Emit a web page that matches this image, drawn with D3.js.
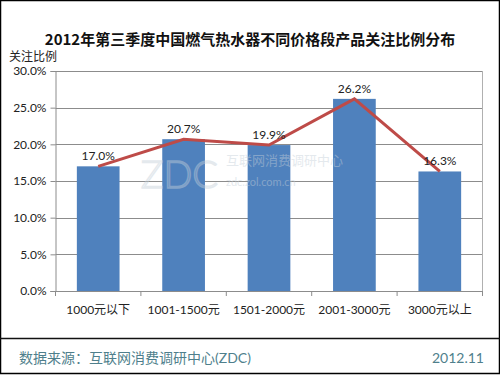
<!DOCTYPE html>
<html><head><meta charset="utf-8">
<script src="https://cdn.jsdelivr.net/npm/d3@7"></script>
<style>body{margin:0;background:#fff}svg{display:block}</style>
</head><body>
<script>
const categories = ["1000元以下","1001-1500元","1501-2000元","2001-3000元","3000元以上"];
const values = [17.0, 20.7, 19.9, 26.2, 16.3];
const yTicks = [0,5,10,15,20,25,30];
const title = "2012年第三季度中国燃气热水器不同价格段产品关注比例分布";
const yTitle = "关注比例";
const source = "数据来源：互联网消费调研中心(ZDC)";
const dateText = "2012.11";

const W=500,H=375;
const svg=d3.select("body").append("svg").attr("width",W).attr("height",H);
const font="Lato, 'Noto Sans CJK SC', sans-serif";
svg.append("rect").attr("x",0.5).attr("y",0.5).attr("width",W-1).attr("height",H-2).attr("fill","#fff").attr("stroke","#000").attr("stroke-width",1.5);

const m={left:55.5,right:482.5,top:71,bottom:291};
const x=d3.scaleBand().domain(categories).range([m.left,m.right]).paddingInner(0.5).paddingOuter(0.25);
const y=d3.scaleLinear().domain([0,30]).range([m.bottom,m.top]);

// grid
svg.append("g").selectAll("line").data(yTicks).join("line")
 .attr("x1",m.left).attr("x2",m.right).attr("y1",d=>Math.round(y(d))+0.5).attr("y2",d=>Math.round(y(d))+0.5)
 .attr("stroke","#8c8c8c").attr("stroke-width",1);
svg.append("line").attr("x1",m.right).attr("x2",m.right).attr("y1",m.top).attr("y2",m.bottom).attr("stroke","#b0b0b0");

// bars
svg.append("g").selectAll("rect").data(values).join("rect")
 .attr("x",(d,i)=>x(categories[i])).attr("width",x.bandwidth())
 .attr("y",d=>y(d)).attr("height",d=>y(0)-y(d)).attr("fill","#4f81bd");

// watermark (semi-transparent, over bars)
const wm=svg.append("g").attr("opacity",0.45).style("font-family",font);
wm.append("text").attr("x",218).attr("y",188).attr("text-anchor","end").attr("font-size",38).attr("font-weight","300").attr("fill","none").attr("stroke","#c4cfd9").attr("stroke-width",1.5).text("ZDC");
wm.append("text").attr("x",226).attr("y",165).attr("font-size",13).attr("fill","#c4cfd9").text("互联网消费调研中心");
wm.append("text").attr("x",226).attr("y",186).attr("font-size",11).attr("fill","#c4cfd9").text("zdc.zol.com.cn");

// axes
const yAxis=d3.axisLeft(y).tickValues(yTicks).tickFormat(d=>d.toFixed(1)+"%").tickSize(5).tickPadding(4);
const ga=svg.append("g").attr("transform",`translate(${m.left},0)`).call(yAxis);
ga.select(".domain").attr("stroke","#8c8c8c");
ga.selectAll(".tick line").attr("stroke","#8c8c8c");
ga.selectAll("text").attr("font-size",12).attr("fill","#222").style("font-family",font);

const xb=svg.append("g").attr("transform",`translate(0,${m.bottom})`);
xb.append("line").attr("x1",m.left-5).attr("x2",m.right).attr("y1",0.5).attr("y2",0.5).attr("stroke","#8c8c8c");
const bounds=categories.map((c,i)=>m.left+i*(m.right-m.left)/categories.length).concat([m.right]);
xb.selectAll("line.t").data(bounds).join("line").attr("class","t").attr("x1",d=>d).attr("x2",d=>d).attr("y1",0).attr("y2",5).attr("stroke","#8c8c8c");
xb.selectAll("text").data(categories).join("text")
 .attr("x",d=>x(d)+x.bandwidth()/2).attr("y",23).attr("text-anchor","middle")
 .attr("font-size",12).attr("fill","#222").style("font-family",font).text(d=>d);

// line
const line=d3.line().x((d,i)=>x(categories[i])+x.bandwidth()/2).y(d=>y(d));
svg.append("path").datum(values).attr("d",line).attr("fill","none").attr("stroke","#be4b48").attr("stroke-width",3);

// labels
svg.append("g").selectAll("text").data(values).join("text")
 .attr("x",(d,i)=>x(categories[i])+x.bandwidth()/2).attr("y",d=>y(d)-6).attr("text-anchor","middle")
 .attr("font-size",12).attr("fill","#222").style("font-family",font).text(d=>d.toFixed(1)+"%");

// title
svg.append("text").attr("x",250).attr("y",45).attr("text-anchor","middle").attr("font-size",15).attr("font-weight","bold")
 .attr("fill","#111").style("font-family","'Noto Sans CJK SC', sans-serif").text(title);
svg.append("text").attr("x",9).attr("y",61).attr("font-size",12).attr("fill","#222").style("font-family","'Noto Sans CJK SC', sans-serif").text(yTitle);

// footer
svg.append("line").attr("x1",0).attr("x2",W).attr("y1",338.5).attr("y2",338.5).attr("stroke","#111").attr("stroke-width",1.5);
svg.append("text").attr("x",19).attr("y",363).attr("font-size",14).attr("fill","#4f7f8c").style("font-family",font).text(source);
svg.append("text").attr("x",484).attr("y",363).attr("text-anchor","end").attr("font-size",14).attr("fill","#4f7f8c").style("font-family",font).text(dateText);
</script>
</body></html>
